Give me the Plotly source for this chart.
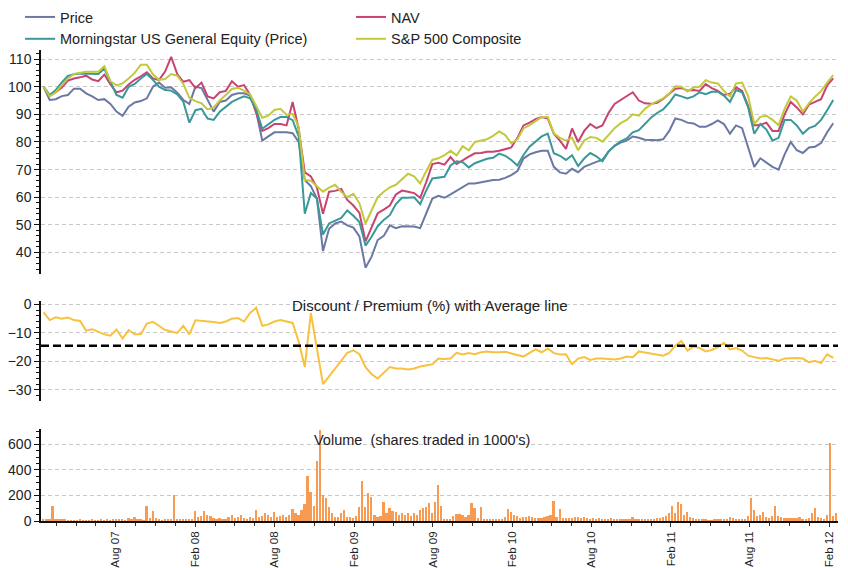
import pandas as pd
import plotly.graph_objects as go
from plotly.subplots import make_subplots

# ---------------- data ----------------
line_dates = pd.date_range("2007-02-16", periods=131, freq="14D")
vol_dates = pd.date_range("2007-02-16", periods=262, freq="7D")

price = [100, 95.2, 95.5, 96.6, 97.0, 99.3, 99.3, 97.6, 96.5, 95.2,
         95.5, 93.8, 91.0, 89.5, 92.8, 94.3, 94.8, 95.8, 100.0, 101.5,
         99.6, 99.8, 97.8, 95.2, 93.8, 100.0, 99.5, 95.0, 91.0, 94.5,
         95.0, 97.0, 97.6, 97.6, 96.8, 91.0, 80.5, 82.0, 83.5, 83.5,
         83.5, 83.2, 80.0, 66.2, 64.0, 59.5, 40.5, 48.6, 50.5, 51.2,
         49.8, 49.0, 45.8, 34.5, 38.5, 44.5, 46.0, 49.8, 48.8, 49.5,
         49.5, 49.4, 48.8, 54.0, 59.5, 60.5, 59.8, 61.0, 62.3, 63.5,
         65.0, 65.0, 65.4, 66.0, 66.2, 66.3, 67.0, 68.0, 69.5, 74.0,
         75.5, 76.3, 76.8, 76.8, 71.0, 69.0, 68.5, 70.3, 69.0, 71.0,
         72.0, 72.8, 73.5, 76.5, 78.6, 79.8, 80.5, 82.0, 81.5, 80.8,
         80.7, 80.6, 81.0, 84.0, 88.5, 88.0, 87.0, 86.7, 85.5, 85.5,
         86.5, 87.8, 86.5, 83.0, 86.0, 85.0, 78.0, 71.0, 74.1, 72.5,
         71.0, 70.0, 75.5, 80.0, 77.0, 76.0, 78.0, 78.3, 79.6, 83.5,
         86.8]

nav = [100, 96.8, 98.0, 99.7, 102.2, 103.0, 103.4, 104.0, 102.6, 102.0,
       104.4, 100.8, 98.0, 98.6, 100.8, 102.5, 103.8, 105.2, 103.0, 102.4,
       105.5, 110.8, 104.6, 101.8, 102.4, 99.5, 101.5, 96.5, 95.8, 98.0,
       98.5, 102.0, 100.0, 100.6, 97.0, 90.5, 84.0, 85.0, 86.5, 86.5,
       86.0, 94.5, 84.5, 69.0, 67.5, 63.5, 54.0, 62.0, 62.3, 63.0,
       59.0, 57.0, 54.3, 44.0, 49.4, 54.2, 55.5, 57.0, 61.0, 62.4,
       62.0, 61.5, 59.8, 65.5, 72.0, 72.5, 71.8, 74.5, 72.0, 73.5,
       74.7, 75.9, 76.0, 76.5, 76.5, 76.8, 77.5, 78.0, 81.5, 86.0,
       87.0, 88.3, 89.0, 88.5, 83.0, 80.5, 77.5, 84.9, 80.0, 84.0,
       86.5, 85.0, 86.0, 90.5, 93.8, 95.2, 96.4, 98.0, 95.0, 94.0,
       93.8, 94.2, 95.6, 97.5, 99.3, 99.5, 98.6, 98.8, 98.5, 101.0,
       99.5, 98.5, 97.0, 97.5, 99.8, 98.5, 93.0, 86.0, 86.2, 87.0,
       84.0, 84.0, 90.0, 94.5, 92.5, 90.0, 93.5, 94.5, 95.5, 100.5,
       103.0]

morningstar = [100, 97.0, 98.8, 101.6, 103.9, 104.5, 104.8, 104.8, 104.6, 104.6,
               106.6, 101.5, 97.0, 96.0, 100.0, 101.0, 103.0, 104.6, 102.5, 100.0,
               98.8, 98.6, 97.2, 94.6, 87.0, 91.5, 92.0, 88.5, 88.0, 91.0,
               92.8, 94.5, 95.6, 96.5, 95.8, 91.8, 84.8, 86.3, 88.0, 89.0,
               89.0, 87.9, 82.0, 54.0, 61.5, 59.5, 46.5, 50.5, 51.5, 52.5,
               55.2, 53.3, 51.0, 42.5, 45.7, 49.5, 51.8, 53.5, 57.5, 59.8,
               59.8, 60.0, 57.5, 62.5, 66.8, 67.2, 67.4, 71.5, 73.0, 72.7,
               70.8, 72.3, 73.0, 73.9, 74.3, 75.8, 75.0, 73.5, 71.5, 75.3,
               78.3, 80.1, 82.0, 83.0, 75.9, 75.0, 73.5, 75.2, 71.3, 74.0,
               76.0, 74.8, 73.0, 76.5, 78.6, 80.2, 81.3, 83.5, 84.3, 86.5,
               88.8, 90.5, 91.8, 94.2, 97.2, 96.5, 95.8, 96.5, 98.0, 97.3,
               98.2, 98.2, 96.8, 94.5, 98.8, 98.0, 92.5, 83.0, 86.5, 84.5,
               80.5, 81.5, 88.0, 88.0, 86.0, 83.0, 85.0, 85.8, 88.0, 91.5,
               95.2]

sp500 = [100, 96.5, 98.0, 100.7, 103.0, 104.6, 105.0, 105.4, 105.4, 105.4,
         107.4, 102.0, 100.5, 101.2, 103.0, 105.0, 108.0, 108.0, 104.5, 102.5,
         102.8, 104.6, 104.0, 101.0, 96.0, 94.8, 94.0, 91.8, 92.5, 95.0,
         97.0, 99.2, 99.6, 98.6, 97.2, 93.0, 88.8, 89.5, 91.6, 92.0,
         89.8, 90.2, 85.5, 66.2, 66.0, 64.0, 62.0, 63.5, 64.5, 62.0,
         60.0, 61.2, 57.8, 50.5, 55.4, 60.0, 62.0, 63.6, 64.5, 66.4,
         68.5, 67.6, 65.0, 69.5, 73.5, 74.1, 75.2, 76.8, 75.2, 78.5,
         77.0, 80.0, 80.5, 81.0, 82.2, 83.8, 82.5, 79.5, 81.0, 84.9,
         86.1, 87.5, 89.0, 89.0, 83.1, 81.5, 80.5, 81.5, 77.0, 80.5,
         81.8, 81.5, 80.1, 82.5, 85.0, 86.8, 88.0, 90.0, 89.5, 92.0,
         93.6, 94.7, 95.8, 97.5, 100.2, 100.0, 98.3, 99.7, 100.0, 102.4,
         101.5, 101.2, 98.5, 96.5, 101.2, 101.5, 96.5, 86.5, 89.1, 89.5,
         88.0, 86.1, 92.0, 96.5, 95.0, 91.0, 94.0, 96.4, 98.4, 101.5,
         104.2]

discount = [-2.8, -5.5, -4.5, -5.0, -4.6, -5.5, -5.8, -9.2, -8.7, -9.5,
            -10.5, -11.0, -8.8, -12.0, -9.0, -10.5, -10.5, -6.7, -6.1, -7.5,
            -9.0, -9.5, -10.0, -7.5, -10.5, -5.6, -5.8, -5.8, -6.2, -6.5,
            -6.0, -5.0, -4.8, -6.0, -3.0, -1.2, -7.5, -7.0, -6.0, -5.5,
            -6.0, -6.5, -13.0, -22.0, -3.0, -15.0, -28.0, -25.3, -22.5, -20.0,
            -17.0, -16.1, -17.5, -22.0, -24.5, -26.0, -24.0, -22.0, -22.5, -22.5,
            -22.8, -22.5, -21.8, -21.5, -21.0, -19.0, -19.2, -19.0, -17.0, -17.6,
            -17.1, -17.5, -16.8, -16.5, -16.8, -16.8, -16.6, -17.2, -17.8, -18.3,
            -17.0, -15.8, -16.8, -15.5, -17.1, -17.6, -17.5, -21.0, -19.0, -18.5,
            -19.5, -19.0, -19.0, -19.2, -19.3, -19.0, -18.3, -18.5, -16.5, -16.9,
            -17.2, -17.6, -18.0, -17.0, -14.5, -12.8, -16.2, -14.8, -15.3, -16.5,
            -16.0, -15.0, -13.5, -15.8, -15.3, -16.2, -18.0, -18.5, -19.0, -18.8,
            -19.4, -19.8, -19.0, -18.8, -18.8, -19.0, -20.3, -19.8, -20.6, -17.5,
            -18.8]

avg_discount = -14.5

volume = [10, 8, 15, 117, 15, 8, 18, 15, 5, 5,
          4, 6, 10, 4, 5, 6, 12, 5, 6, 14,
          6, 12, 5, 8, 15, 18, 8, 6, 20, 12,
          28, 10, 8, 6, 117, 25, 78, 20, 8, 6,
          15, 18, 10, 203, 8, 12, 14, 15, 18, 12,
          78, 30, 40, 78, 45, 40, 20, 15, 25, 18,
          12, 30, 45, 25, 35, 50, 25, 18, 35, 25,
          86, 30, 40, 60, 45, 35, 73, 30, 40, 50,
          35, 45, 94, 60, 50, 86, 130, 354, 230, 120,
          470, 715, 203, 177, 112, 60, 35, 30, 65, 86,
          30, 30, 20, 40, 112, 315, 112, 221, 190, 50,
          30, 40, 151, 60, 99, 80, 70, 50, 60, 45,
          65, 40, 60, 50, 86, 99, 112, 138, 60, 151,
          280, 120, 15, 12, 15, 40, 55, 55, 50, 30,
          50, 143, 100, 20, 107, 15, 15, 10, 10, 12,
          10, 15, 30, 94, 73, 50, 40, 25, 35, 30,
          40, 30, 20, 25, 20, 30, 40, 50, 156, 35,
          91, 20, 20, 20, 22, 28, 30, 20, 30, 20,
          10, 20, 15, 20, 12, 12, 15, 20, 15, 15,
          10, 15, 10, 15, 30, 15, 10, 10, 10, 12,
          15, 18, 20, 20, 30, 40, 60, 117, 60, 151,
          133, 50, 73, 30, 20, 10, 10, 10, 8, 5,
          5, 8, 10, 8, 10, 15, 30, 20, 10, 10,
          12, 15, 40, 182, 86, 40, 50, 73, 30, 20,
          40, 117, 40, 30, 25, 20, 25, 20, 25, 30,
          15, 15, 20, 60, 99, 30, 20, 15, 50, 611,
          40, 60]

series_names = ["Price", "NAV", "Morningstar US General Equity (Price)", "S&P 500 Composite"]
series_colors = ["#6B78A4", "#C8436F", "#3A9898", "#C3C83C"]
discount_title = "Discount / Premium (%) with Average line"
volume_title = "Volume  (shares traded in 1000's)"

# ---------------- figure ----------------
FONT = "Liberation Sans, Arial, sans-serif"

fig = make_subplots(rows=3, cols=1, shared_xaxes=True)

for name, col, vals in zip(series_names, series_colors, [price, nav, morningstar, sp500]):
    fig.add_trace(go.Scatter(x=line_dates, y=vals, name=name, mode="lines",
                             line=dict(color=col, width=2)), row=1, col=1)

fig.add_trace(go.Scatter(x=line_dates, y=discount, mode="lines", showlegend=False,
                         line=dict(color="#F8C23E", width=2)), row=2, col=1)

fig.add_trace(go.Bar(x=vol_dates, y=volume, showlegend=False,
                     marker=dict(color="#F79A52", line=dict(width=0)),
                     width=4 * 86400000), row=3, col=1)

fig.add_shape(type="line", xref="x2 domain", yref="y2", x0=0, x1=1,
              y0=avg_discount, y1=avg_discount,
              line=dict(color="black", width=2.5, dash="8px,4px"))

# minor x ticks: every quarter of a half-year interval
majors = pd.date_range("2007-02-01", "2012-08-01", freq="6MS")
minor_vals = []
for a, b in zip(majors[:-1], majors[1:]):
    for k in (1, 2, 3):
        minor_vals.append(a + (b - a) * k / 4)

grid = dict(showgrid=True, gridcolor="#C8C8C8", gridwidth=1, griddash="4px,3px")
yax_common = dict(showline=True, linecolor="#111", linewidth=1.5, ticks="outside",
                  ticklen=5, tickcolor="#111", zeroline=False,
                  tickfont=dict(family=FONT, size=14, color="#222"), **grid)

fig.update_layout(
    width=848, height=568,
    margin=dict(l=41, r=10, t=50, b=47, autoexpand=False),
    plot_bgcolor="white", paper_bgcolor="white",
    font=dict(family=FONT, size=14, color="#222"),
    bargap=0,
    showlegend=True,
    legend=dict(orientation="h", x=-0.0263, xanchor="left", y=1.104, yanchor="top",
                entrywidth=286, entrywidthmode="pixels", itemwidth=30,
                font=dict(family=FONT, size=14.5, color="#222"),
                bgcolor="rgba(0,0,0,0)", tracegroupgap=0),
    yaxis=dict(domain=[0.5244, 1], range=[32.2, 113.3], tickvals=[40, 50, 60, 70, 80, 90, 100, 110],
               minor=dict(dtick=2, ticklen=3, tickcolor="#111", ticks="outside", showgrid=False),
               **yax_common),
    yaxis2=dict(domain=[0.2554, 0.4677], range=[-33.8, 1.3], tickvals=[-30, -20, -10, 0],
                minor=dict(dtick=2, ticklen=3, tickcolor="#111", ticks="outside", showgrid=False),
                **yax_common),
    yaxis3=dict(domain=[0, 0.1953], range=[0, 720], tickvals=[0, 200, 400, 600],
                minor=dict(dtick=50, ticklen=3, tickcolor="#111", ticks="outside", showgrid=False),
                **yax_common),
    xaxis=dict(range=["2007-02-10", "2012-02-21"], showticklabels=False, ticks="",
               showline=False, showgrid=False),
    xaxis2=dict(range=["2007-02-10", "2012-02-21"], showticklabels=False, ticks="",
                showline=False, showgrid=False),
    xaxis3=dict(range=["2007-02-10", "2012-02-21"], showgrid=False, showline=True,
                linecolor="#111", linewidth=1.5, ticks="outside", ticklen=4, tickcolor="#333",
                tick0="2007-08-01", dtick="M6", tickformat="%b %y", tickangle=-90,
                tickfont=dict(family=FONT, size=11.5, color="#222"),
                minor=dict(tickmode="array", tickvals=minor_vals, ticks="outside",
                           ticklen=3, tickcolor="#333", showgrid=False)),
)

fig.add_annotation(text=discount_title, xref="paper", yref="paper", x=0.488, y=0.4565,
                   xanchor="center", yanchor="middle", showarrow=False,
                   font=dict(family=FONT, size=15, color="#222"))
fig.add_annotation(text=volume_title, xref="paper", yref="paper", x=0.478, y=0.172,
                   xanchor="center", yanchor="middle", showarrow=False,
                   font=dict(family=FONT, size=14.5, color="#222"))

# remove the browser's default 8px page margin so the figure fills the window exactly
fig.write_html("out.html", config={"displayModeBar": False},
               post_script="document.body.style.margin='0';")
